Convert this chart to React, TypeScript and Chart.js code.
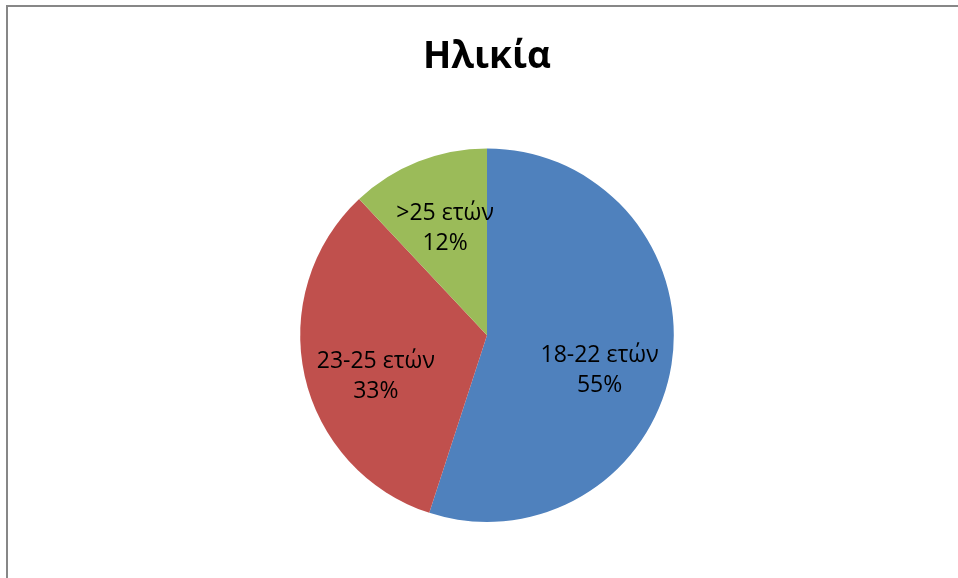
import React, { useEffect, useRef } from "react";
import { Chart, registerables } from "chart.js";

Chart.register(...registerables);

const TITLE = "Ηλικία";
const categories = ["18-22 ετών", "23-25 ετών", ">25 ετών"];
const shares = [55, 33, 12];
const colors = ["#4F81BD", "#C0504D", "#9BBB59"];

const labelPlugin = {
  id: "sliceLabels",
  afterDatasetsDraw(chart: any) {
    const meta = chart.getDatasetMeta(0);
    const ctx = chart.ctx;
    ctx.save();
    ctx.font = '23px "Open Sans", sans-serif';
    ctx.fillStyle = "#000000";
    ctx.textAlign = "center";
    ctx.textBaseline = "middle";
    meta.data.forEach((arc: any, i: number) => {
      const p = arc.getProps(["x", "y", "startAngle", "endAngle", "outerRadius"], true);
      const mid = (p.startAngle + p.endAngle) / 2;
      const R = p.outerRadius;
      const c = Math.cos(mid);
      const x = p.x + 0.61 * R * c;
      const y = p.y + 0.6 * R * Math.sin(mid) + 0.13 * R * c * c - 6;
      const pct = Math.round(
        (shares[i] / shares.reduce((a, b) => a + b, 0)) * 100
      );
      ctx.fillText(categories[i], x, y - 15);
      ctx.fillText(pct + "%", x, y + 15);
    });
    ctx.restore();
  },
};

export default function App() {
  const ref = useRef<HTMLCanvasElement | null>(null);
  useEffect(() => {
    if (!ref.current) return;
    const chart = new Chart(ref.current, {
      type: "pie",
      data: {
        labels: categories,
        datasets: [
          {
            data: shares,
            backgroundColor: colors,
            borderWidth: 0,
          },
        ],
      },
      options: {
        animation: false,
        responsive: false,
        layout: { padding: { top: 0, bottom: 56, left: 16 } },
        plugins: {
          legend: { display: false },
          tooltip: { enabled: false },
          title: {
            display: true,
            text: TITLE,
            color: "#000000",
            font: { family: '"Open Sans", sans-serif', size: 37, weight: "bold" },
            padding: { top: 35, bottom: 69 },
          },
        },
      },
      plugins: [labelPlugin],
    });
    return () => chart.destroy();
  }, []);
  return (
    <div
      style={{
        position: "absolute",
        left: 0,
        top: 0,
        width: 958,
        height: 578,
        background: "#ffffff",
        overflow: "hidden",
      }}
    >
      <div
        style={{
          position: "absolute",
          left: 6,
          top: 5,
          width: 1000,
          height: 1000,
          borderLeft: "2px solid #878787",
          borderTop: "2px solid #878787",
        }}
      />
      <canvas
        ref={ref}
        width={958}
        height={578}
        style={{ position: "absolute", left: 0, top: 0 }}
      />
    </div>
  );
}
